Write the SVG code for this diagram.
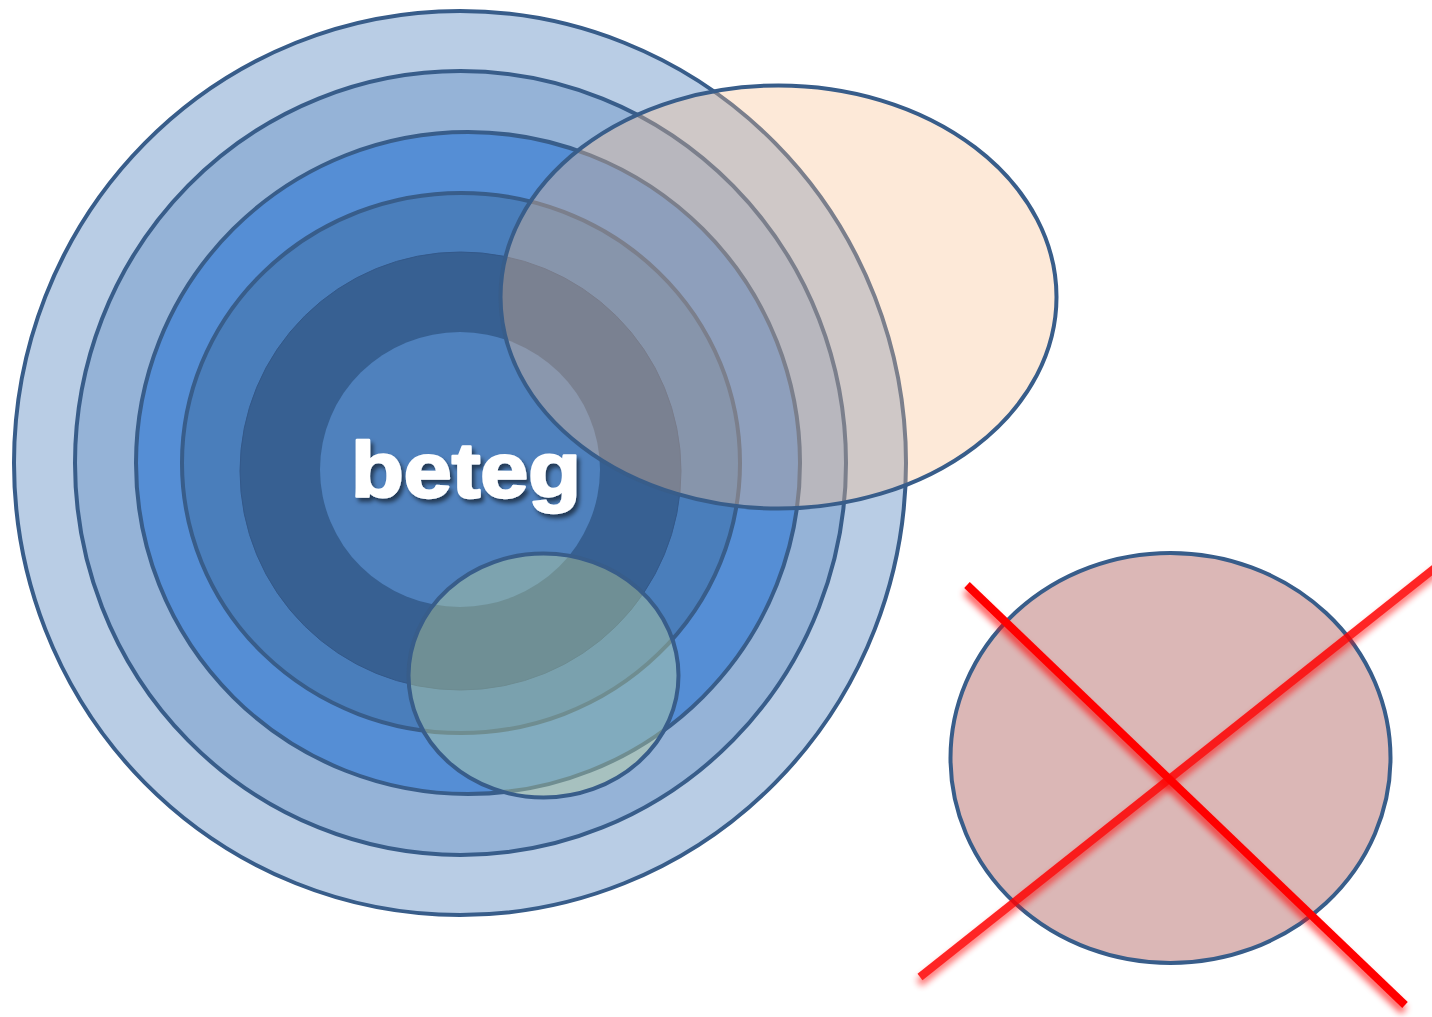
<svg xmlns="http://www.w3.org/2000/svg" width="1432" height="1017" viewBox="0 0 1432 1017">
<defs>
<style>
.st{stroke:#385D8A;stroke-width:4}
.x{stroke:#FF0000;stroke-width:8;stroke-linecap:butt;fill:none}
.lbl{font-family:"Liberation Sans",Arial,sans-serif;font-weight:900;font-size:78px;fill:#FFFFFF;stroke:#FFFFFF;stroke-width:2.5;stroke-linejoin:round}
</style>
<filter id="glow" x="-20%" y="-20%" width="140%" height="140%">
<feGaussianBlur in="SourceGraphic" stdDeviation="3.5" result="b"/>
<feOffset in="b" dx="-1" dy="6" result="o"/>
<feComponentTransfer in="o" result="oa"><feFuncA type="linear" slope="0.7"/></feComponentTransfer>
<feMerge><feMergeNode in="oa"/><feMergeNode in="SourceGraphic"/></feMerge>
</filter>
<filter id="tshadow" x="-10%" y="-20%" width="120%" height="150%">
<feGaussianBlur in="SourceAlpha" stdDeviation="2"/>
<feOffset dx="3" dy="4" result="o"/>
<feFlood flood-color="#000000" flood-opacity="0.55"/>
<feComposite in2="o" operator="in" result="s"/>
<feMerge><feMergeNode in="s"/><feMergeNode in="SourceGraphic"/></feMerge>
</filter>
</defs>
<g id="ring1"><ellipse class="st" cx="460" cy="463" rx="446" ry="452" fill="#B9CDE5"/></g>
<g id="ring2"><ellipse class="st" cx="460.5" cy="463" rx="385.5" ry="392" fill="#95B3D7"/></g>
<g id="ring3"><ellipse class="st" cx="468" cy="463" rx="332" ry="331" fill="#558ED5"/></g>
<g id="ring4"><ellipse class="st" cx="461" cy="463" rx="279" ry="270" fill="#4A7EBB"/></g>
<g id="ring5"><ellipse cx="460.5" cy="471" rx="220.5" ry="219" fill="#376092" stroke="#34598A" stroke-width="1"/></g>
<g id="ring6"><ellipse cx="460" cy="469.5" rx="140" ry="137.5" fill="#4F81BD"/></g>
<g id="label"><text class="lbl" x="351" y="497" textLength="230" lengthAdjust="spacingAndGlyphs" filter="url(#tshadow)">beteg</text></g>
<g id="peach"><ellipse cx="778.5" cy="297" rx="278" ry="211.5" fill="#FAC090" fill-opacity="0.35" stroke="#385D8A" stroke-width="4"/></g>
<g id="green"><ellipse cx="543.5" cy="675.5" rx="135" ry="122" fill="#C3D69B" fill-opacity="0.4" stroke="#385D8A" stroke-width="4"/></g>
<g id="pink"><ellipse class="st" cx="1170.5" cy="758" rx="220" ry="205" fill="#DBB7B6"/></g>
<g id="connectors">
<line class="x" x1="967" y1="585" x2="1405" y2="1005" filter="url(#glow)"/>
<line class="x" x1="920" y1="977" x2="1440" y2="564" opacity="0.85" filter="url(#glow)"/>
</g>
</svg>
